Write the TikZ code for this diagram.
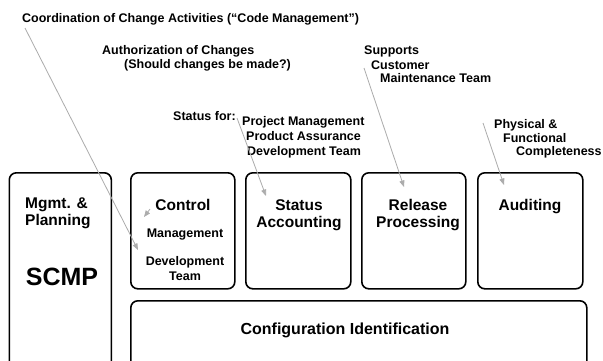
\documentclass[tikz,border=0pt]{standalone}
\usepackage{fontspec}
\setmainfont{Liberation Sans}
\usetikzlibrary{arrows.meta}
\definecolor{ptrgray}{RGB}{172,172,172}
\begin{document}
\begin{tikzpicture}[x=1pt,y=-1pt,
  box/.style={draw,line width=1.6pt,rounded corners=7pt,anchor=north west,inner sep=0pt},
  lbl/.style={font=\fontsize{12.5}{15}\selectfont\bfseries,inner sep=0pt,anchor=base west},
  ttl/.style={font=\fontsize{15.5}{17}\selectfont\bfseries,inner sep=0pt,anchor=base},
  sub/.style={font=\fontsize{12.5}{14}\selectfont\bfseries,inner sep=0pt,anchor=base},
  ptr/.style={draw=ptrgray,line width=0.8pt,-{Triangle[length=6.5pt,width=5pt]}}]
\useasboundingbox (0,0) rectangle (603,360);
\clip (0,0) rectangle (603,360);
\fill[white] (0,0) rectangle (603,360);

% boxes
\node[box,minimum width=102pt,minimum height=196pt] (mgmt) at (8.5,172) {};
\node[box,minimum width=104pt,minimum height=116pt] (ctl) at (130,172) {};
\node[box,minimum width=105pt,minimum height=116pt] (stat) at (245,172) {};
\node[box,minimum width=104pt,minimum height=116pt] (rel) at (361,172) {};
\node[box,minimum width=105pt,minimum height=116pt] (aud) at (477,172) {};
\node[box,minimum width=456pt,minimum height=70pt] (cid) at (130,300) {};

% box texts
\node[ttl,anchor=base west] (mg1) at (25,208.3) {Mgmt. \&};
\node[ttl,anchor=base west] (mg2) at (25,225.3) {Planning};
\node[font=\fontsize{25}{28}\selectfont\bfseries,inner sep=0pt,anchor=base] (scmp) at (62,285) {SCMP};
\node[ttl] (ctlt) at (183,210) {Control};
\node[sub] (ctlm) at (185,237.5) {Management};
\node[sub] (ctld) at (185,265.5) {Development};
\node[sub] (ctlteam) at (185,280) {Team};
\node[ttl] (st1) at (299,210) {Status};
\node[ttl] (st2) at (299,227) {Accounting};
\node[ttl] (rl1) at (418,210) {Release};
\node[ttl] (rl2) at (418,227) {Processing};
\node[ttl] (au1) at (530,210) {Auditing};
\node[font=\fontsize{16}{18}\selectfont\bfseries,inner sep=0pt,anchor=base] (cidt) at (345,334) {Configuration Identification};

% outside labels
\node[lbl] (coord) at (22,22.3) {Coordination of Change Activities (“Code Management”)};
\node[lbl] (auth1) at (102,54) {Authorization of Changes};
\node[lbl] (auth2) at (124,68.5) {(Should changes be made?)};
\node[lbl] (sfor) at (173,120.5) {Status for:};
\node[lbl] (sfor1) at (242,125.5) {Project Management};
\node[lbl] (sfor2) at (246,140) {Product Assurance};
\node[lbl] (sfor3) at (247,155) {Development Team};
\node[lbl] (sup1) at (364,54.3) {Supports};
\node[lbl] (sup2) at (371,69) {Customer};
\node[lbl] (sup3) at (380,82.5) {Maintenance Team};
\node[lbl] (phy1) at (494,128.3) {Physical \&};
\node[lbl] (phy2) at (503,142.3) {Functional};
\node[lbl] (phy3) at (516,155.7) {Completeness};

% pointer ends
\coordinate (p1s) at (25,28);   \coordinate (p1e) at (138,250);
\coordinate (p2s) at (150,209); \coordinate (p2e) at (144,217);
\coordinate (p3s) at (237,118); \coordinate (p3e) at (266,196);
\coordinate (p4s) at (364,68);  \coordinate (p4e) at (404,187);
\coordinate (p5s) at (483,123); \coordinate (p5e) at (504,185);

\draw[ptr] (p1s) -- (p1e);
\draw[ptr] (p2s) -- (p2e);
\draw[ptr] (p3s) -- (p3e);
\draw[ptr] (p4s) -- (p4e);
\draw[ptr] (p5s) -- (p5e);
\end{tikzpicture}
\end{document}
